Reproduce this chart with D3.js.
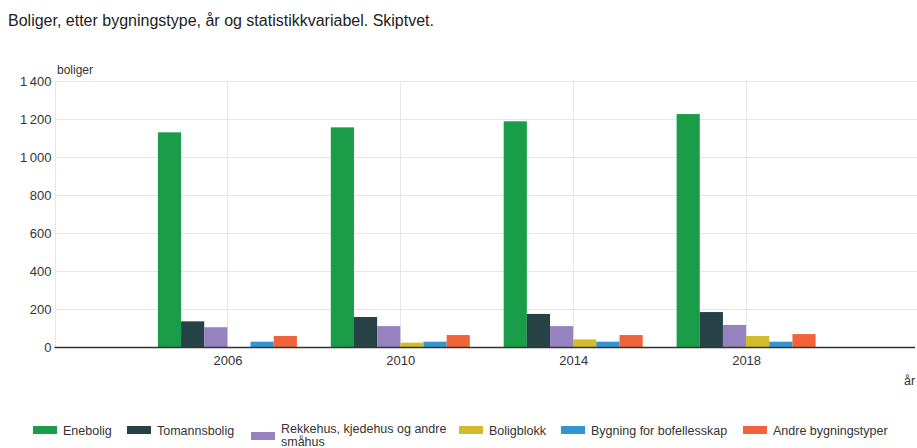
<!DOCTYPE html>
<html>
<head>
<meta charset="utf-8">
<script src="https://cdn.jsdelivr.net/npm/d3@7"></script>
<style>
  body { margin: 0; background: #fff; font-family: "Liberation Sans", Arial, sans-serif; }
  svg text { fill: #333; }
</style>
</head>
<body>
<svg id="chart" width="917" height="448"></svg>
<script>
const years = [2006, 2010, 2014, 2018];
const series = ['Enebolig', 'Tomannsbolig', 'Rekkehus, kjedehus og andre småhus', 'Boligblokk', 'Bygning for bofellesskap', 'Andre bygningstyper'];
const colors = ['#1a9d49', '#274247', '#9582be', '#d3bc2b', '#3396d2', '#f1643b'];
const enebolig = [1130, 1156, 1188, 1226];
const tomannsbolig = [135, 158, 174, 184];
const rekkehus = [104, 110, 110, 116];
const boligblokk = [0, 23, 40, 58];
const bofellesskap = [28, 28, 28, 28];
const andre = [58, 63, 63, 68];
const yTicks = [0, 200, 400, 600, 800, 1000, 1200, 1400];

const values = [enebolig, tomannsbolig, rekkehus, boligblokk, bofellesskap, andre];

const svg = d3.select('#chart');
const plotLeft = 54.5, plotRight = 919, plotTop = 81, plotBottom = 347;

svg.append('text')
  .attr('x', 8).attr('y', 26)
  .style('font-size', '16px')
  .style('fill', '#222')
  .text('Boliger, etter bygningstype, år og statistikkvariabel. Skiptvet.');

const x = d3.scaleLinear().domain([2002, 2022]).range([plotLeft, plotRight]);
const y = d3.scaleLinear().domain([0, 1400]).range([plotBottom, plotTop]);
const x1 = d3.scaleBand().domain(series).range([-69.5, 69.5]);

// grid
svg.append('g')
  .selectAll('line')
  .data(yTicks.slice(1))
  .enter().append('line')
  .attr('x1', plotLeft).attr('x2', 917)
  .attr('y1', d => y(d) + 0.5).attr('y2', d => y(d) + 0.5)
  .attr('stroke', '#e6e6e6');

svg.append('g')
  .selectAll('line')
  .data([2002].concat(years))
  .enter().append('line')
  .attr('x1', d => Math.round(x(d)) + 0.5).attr('x2', d => Math.round(x(d)) + 0.5)
  .attr('y1', plotTop).attr('y2', plotBottom)
  .attr('stroke', '#e6e6e6');

// y axis labels
const yAxis = svg.append('g')
  .attr('transform', 'translate(' + plotLeft + ',0)')
  .call(d3.axisLeft(y).tickValues(yTicks).tickSize(0).tickPadding(3)
    .tickFormat(d => d3.format(',')(d).replace(',', '\u2009')));
yAxis.select('.domain').remove();
yAxis.selectAll('text').style('font-size', '13px').style('font-family', '"Liberation Sans", Arial, sans-serif').attr('fill', '#333');

svg.append('text')
  .attr('x', 57).attr('y', 74)
  .style('font-size', '12px')
  .text('boliger');

// bars
years.forEach((yr, i) => {
  svg.append('g')
    .selectAll('rect')
    .data(series)
    .enter().append('rect')
    .attr('x', s => x(yr) + x1(s))
    .attr('width', x1.bandwidth())
    .attr('y', (s, j) => y(values[j][i]))
    .attr('height', (s, j) => plotBottom - y(values[j][i]))
    .attr('fill', (s, j) => colors[j]);
});

// x axis
const xAxis = svg.append('g')
  .attr('transform', 'translate(0,' + plotBottom + ')')
  .call(d3.axisBottom(x).tickValues(years).tickFormat(d3.format('d')).tickSize(0).tickPadding(9));
xAxis.select('.domain').remove();
xAxis.selectAll('text').style('font-size', '13px').style('font-family', '"Liberation Sans", Arial, sans-serif').attr('fill', '#333');

svg.append('line')
  .attr('x1', plotLeft).attr('x2', 915)
  .attr('y1', plotBottom + 0.5).attr('y2', plotBottom + 0.5)
  .attr('stroke', '#333').attr('stroke-width', 1.3);

svg.append('text')
  .attr('x', 904).attr('y', 385)
  .style('font-size', '12.5px')
  .text('år');

// legend
const legendX = [33, 127, 251, 459, 561, 743];
const legend = svg.append('g').style('font-size', '12.5px');
series.forEach((s, j) => {
  const g = legend.append('g').attr('transform', 'translate(' + legendX[j] + ',0)');
  if (j === 2) {
    g.append('rect').attr('x', 0).attr('y', 432).attr('width', 24).attr('height', 8).attr('fill', colors[j]);
    g.append('text').attr('x', 30).attr('y', 433).text('Rekkehus, kjedehus og andre');
    g.append('text').attr('x', 30).attr('y', 446).text('småhus');
  } else {
    g.append('rect').attr('x', 0).attr('y', 426).attr('width', 24).attr('height', 8).attr('fill', colors[j]);
    g.append('text').attr('x', 30).attr('y', 435).text(s);
  }
});
</script>
</body>
</html>
